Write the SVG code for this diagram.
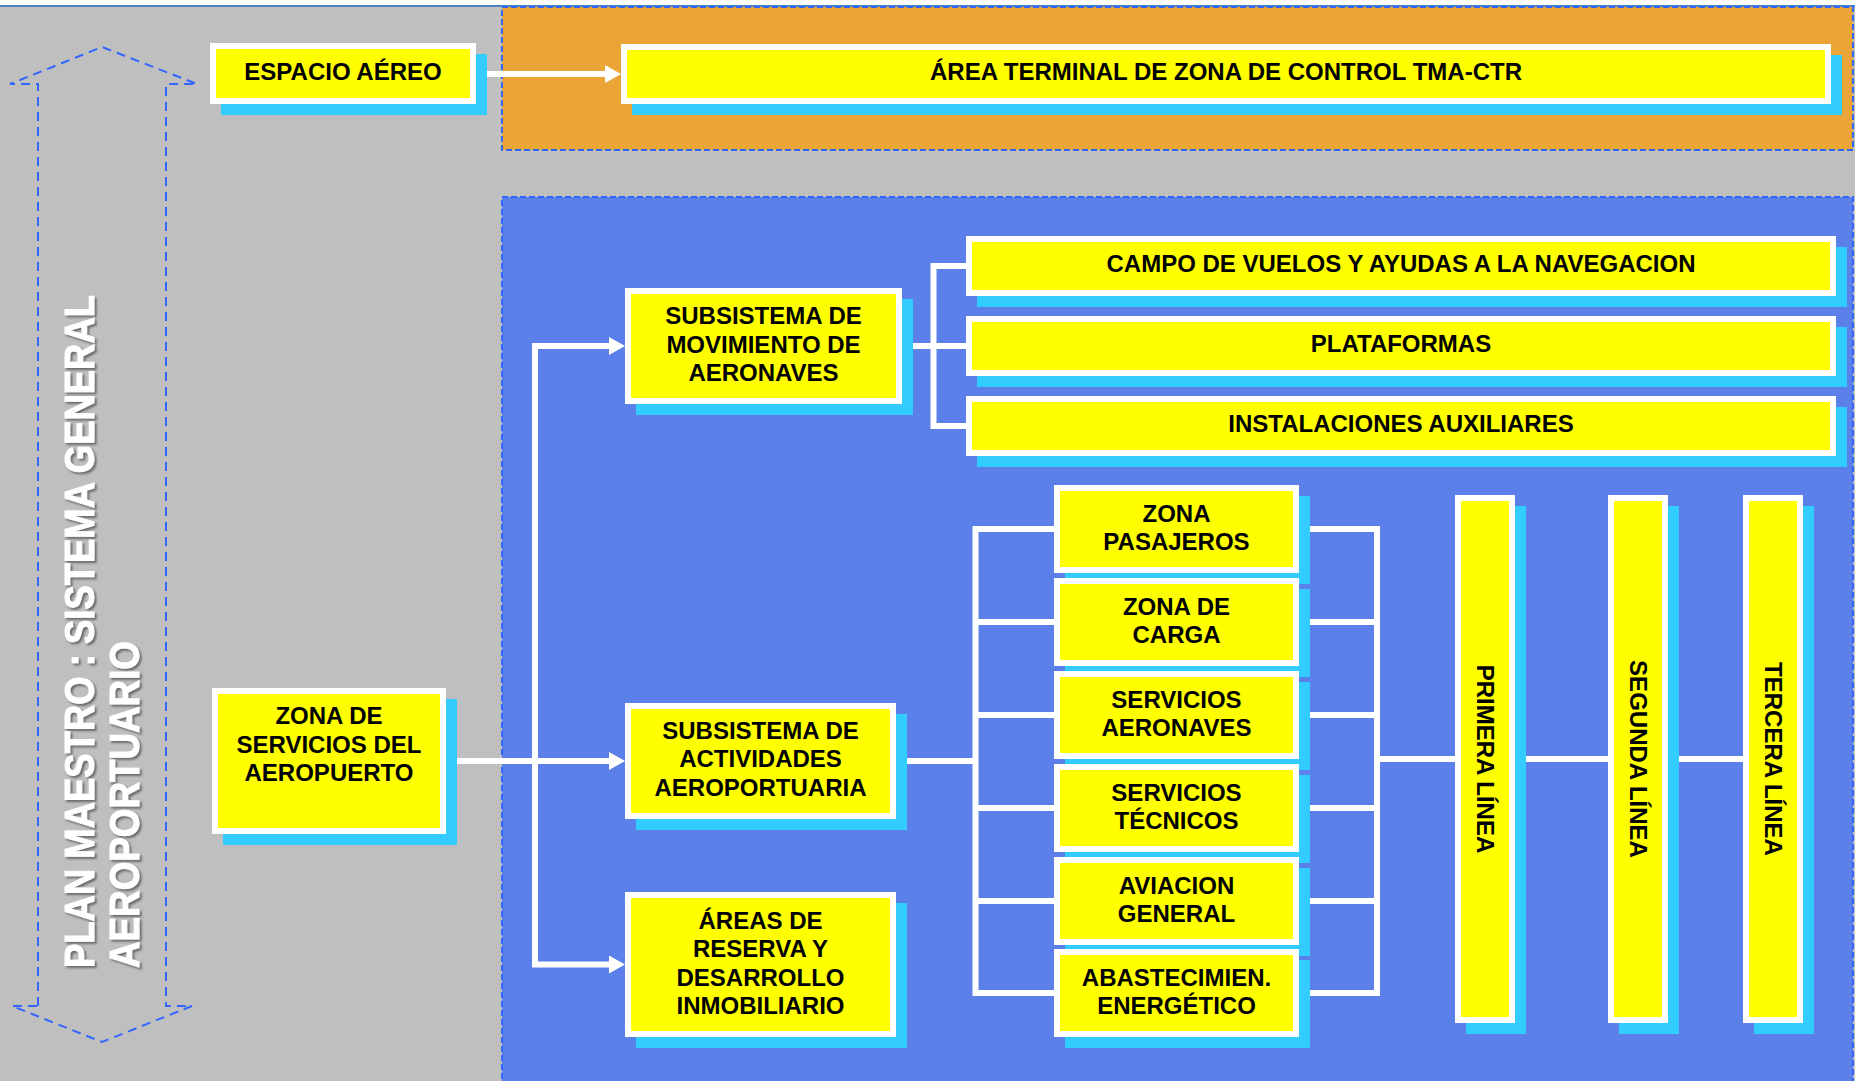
<svg xmlns="http://www.w3.org/2000/svg" width="1855" height="1081" viewBox="0 0 1855 1081">
  <defs>
    <style>
      .sh { fill: #33CCFF; }
      .bx { fill: #FFFF00; stroke: #FFFFFF; stroke-width: 6; }
      .lbl { font-family: "Liberation Sans", Arial, sans-serif; font-weight: bold; font-size: 24px; fill: #000000; text-anchor: middle; }
      .conn { stroke: #FFFFFF; stroke-width: 6; fill: none; }
      .zone { stroke: #3366FF; stroke-width: 2; stroke-dasharray: 6 3; }
      .title { font-family: "Liberation Sans", Arial, sans-serif; font-weight: bold; font-size: 42px; fill: #FFFFFF; stroke: #FFFFFF; stroke-width: 1; }
    </style>
    <marker id="arr" viewBox="0 0 16 18" refX="1" refY="9" markerWidth="16" markerHeight="18" markerUnits="userSpaceOnUse" orient="auto">
      <path d="M0,0 L16,9 L0,18 Z" fill="#FFFFFF"/>
    </marker>
    <filter id="tshadow" x="-10%" y="-10%" width="130%" height="130%">
      <feDropShadow dx="2" dy="2" stdDeviation="1" flood-color="#555555" flood-opacity="0.8"/>
    </filter>
  </defs>

  <!-- background -->
  <rect x="0" y="0" width="1855" height="1081" fill="#BFBFBF"/>
  <rect x="0" y="0" width="1855" height="5" fill="#FFFFFF"/>
  <line x1="0" y1="6" x2="1855" y2="6" stroke="#4F81BD" stroke-width="2"/>

  <!-- zones -->
  <rect id="zone-airspace" class="zone" x="502" y="7" width="1351" height="143" fill="#EBA537"/>
  <rect id="zone-airport" class="zone" x="502" y="197" width="1351" height="890" fill="#5B80E9"/>

  <!-- side double arrow with title -->
  <g id="plan-maestro">
    <path d="M38,1006 V84 H10 L102,47 L197,84 H166 V1006 H192 L102,1042 L12,1006 Z" fill="none" stroke="#3366FF" stroke-width="2" stroke-dasharray="9 6"/>
    <g filter="url(#tshadow)">
      <text class="title" transform="translate(94,968) rotate(-90)" textLength="673" lengthAdjust="spacingAndGlyphs">PLAN MAESTRO : SISTEMA GENERAL</text>
      <text class="title" transform="translate(139,968) rotate(-90)" textLength="327" lengthAdjust="spacingAndGlyphs">AEROPORTUARIO</text>
    </g>
  </g>

  <!-- connectors -->
  <g id="connectors">
    <path class="conn" d="M476,74 H606" marker-end="url(#arr)"/>
    <path class="conn" d="M446,761 H610" marker-end="url(#arr)"/>
    <path class="conn" d="M535,964.5 V346 H610" marker-end="url(#arr)"/>
    <path class="conn" d="M532,964.5 H610" marker-end="url(#arr)"/>
    <path class="conn" d="M902,346 H966"/>
    <path class="conn" d="M966,266 H933.5 V426 H966"/>
    <path class="conn" d="M896,761 H975.5"/>
    <path class="conn" d="M1054,529 H975.5 V993 H1054"/>
    <path class="conn" d="M975.5,622 H1054 M975.5,715 H1054 M975.5,808 H1054 M975.5,901 H1054"/>
    <path class="conn" d="M1299,529 H1377 V993 H1299"/>
    <path class="conn" d="M1299,622 H1377 M1299,715 H1377 M1299,808 H1377 M1299,901 H1377"/>
    <path class="conn" d="M1377,759 H1455"/>
    <path class="conn" d="M1515,759 H1608"/>
    <path class="conn" d="M1668,759 H1743"/>
  </g>

  <!-- nodes -->
  <g id="espacio-aereo">
    <rect class="sh" x="221" y="54" width="266" height="61"/>
    <rect class="bx" x="213" y="46" width="260" height="55"/>
    <text class="lbl" x="343" y="80">ESPACIO AÉREO</text>
  </g>
  <g id="area-terminal">
    <rect class="sh" x="632" y="55" width="1210" height="60"/>
    <rect class="bx" x="624" y="47" width="1204" height="54"/>
    <text class="lbl" x="1226" y="80">ÁREA TERMINAL DE ZONA DE CONTROL TMA-CTR</text>
  </g>
  <g id="zona-servicios">
    <rect class="sh" x="223" y="699" width="234" height="146"/>
    <rect class="bx" x="215" y="691" width="228" height="140"/>
    <text class="lbl" x="329" y="724">ZONA DE</text>
    <text class="lbl" x="329" y="752.5">SERVICIOS DEL</text>
    <text class="lbl" x="329" y="781">AEROPUERTO</text>
  </g>
  <g id="subsistema-movimiento">
    <rect class="sh" x="636" y="299" width="277" height="116"/>
    <rect class="bx" x="628" y="291" width="271" height="110"/>
    <text class="lbl" x="763.5" y="324">SUBSISTEMA DE</text>
    <text class="lbl" x="763.5" y="352.5">MOVIMIENTO DE</text>
    <text class="lbl" x="763.5" y="381">AERONAVES</text>
  </g>
  <g id="subsistema-actividades">
    <rect class="sh" x="636" y="714" width="271" height="116"/>
    <rect class="bx" x="628" y="706" width="265" height="110"/>
    <text class="lbl" x="760.5" y="738.5">SUBSISTEMA DE</text>
    <text class="lbl" x="760.5" y="767">ACTIVIDADES</text>
    <text class="lbl" x="760.5" y="795.5">AEROPORTUARIA</text>
  </g>
  <g id="areas-reserva">
    <rect class="sh" x="636" y="903" width="271" height="145"/>
    <rect class="bx" x="628" y="895" width="265" height="139"/>
    <text class="lbl" x="760.5" y="928.5">ÁREAS DE</text>
    <text class="lbl" x="760.5" y="957">RESERVA Y</text>
    <text class="lbl" x="760.5" y="985.5">DESARROLLO</text>
    <text class="lbl" x="760.5" y="1014">INMOBILIARIO</text>
  </g>
  <g id="campo-vuelos">
    <rect class="sh" x="977" y="247" width="870" height="60"/>
    <rect class="bx" x="969" y="239" width="864" height="54"/>
    <text class="lbl" x="1401" y="272">CAMPO DE VUELOS Y AYUDAS A LA NAVEGACION</text>
  </g>
  <g id="plataformas">
    <rect class="sh" x="977" y="327" width="870" height="60"/>
    <rect class="bx" x="969" y="319" width="864" height="54"/>
    <text class="lbl" x="1401" y="352">PLATAFORMAS</text>
  </g>
  <g id="instalaciones-auxiliares">
    <rect class="sh" x="977" y="407" width="870" height="60"/>
    <rect class="bx" x="969" y="399" width="864" height="54"/>
    <text class="lbl" x="1401" y="432">INSTALACIONES AUXILIARES</text>
  </g>
  <g id="zona-pasajeros">
    <rect class="sh" x="1065" y="496" width="245" height="88"/>
    <rect class="bx" x="1057" y="488" width="239" height="82"/>
    <text class="lbl" x="1176.5" y="521.5">ZONA</text>
    <text class="lbl" x="1176.5" y="550">PASAJEROS</text>
  </g>
  <g id="zona-carga">
    <rect class="sh" x="1065" y="589" width="245" height="88"/>
    <rect class="bx" x="1057" y="581" width="239" height="82"/>
    <text class="lbl" x="1176.5" y="614.5">ZONA DE</text>
    <text class="lbl" x="1176.5" y="643">CARGA</text>
  </g>
  <g id="servicios-aeronaves">
    <rect class="sh" x="1065" y="682" width="245" height="88"/>
    <rect class="bx" x="1057" y="674" width="239" height="82"/>
    <text class="lbl" x="1176.5" y="707.5">SERVICIOS</text>
    <text class="lbl" x="1176.5" y="736">AERONAVES</text>
  </g>
  <g id="servicios-tecnicos">
    <rect class="sh" x="1065" y="775" width="245" height="88"/>
    <rect class="bx" x="1057" y="767" width="239" height="82"/>
    <text class="lbl" x="1176.5" y="800.5">SERVICIOS</text>
    <text class="lbl" x="1176.5" y="829">TÉCNICOS</text>
  </g>
  <g id="aviacion-general">
    <rect class="sh" x="1065" y="868" width="245" height="88"/>
    <rect class="bx" x="1057" y="860" width="239" height="82"/>
    <text class="lbl" x="1176.5" y="893.5">AVIACION</text>
    <text class="lbl" x="1176.5" y="922">GENERAL</text>
  </g>
  <g id="abastecimiento-energetico">
    <rect class="sh" x="1065" y="960" width="245" height="88"/>
    <rect class="bx" x="1057" y="952" width="239" height="82"/>
    <text class="lbl" x="1176.5" y="985.5">ABASTECIMIEN.</text>
    <text class="lbl" x="1176.5" y="1014">ENERGÉTICO</text>
  </g>
  <g id="primera-linea">
    <rect class="sh" x="1466" y="506" width="60" height="528"/>
    <rect class="bx" x="1458" y="498" width="54" height="522"/>
    <text class="lbl" transform="translate(1476.5,759) rotate(90)">PRIMERA LÍNEA</text>
  </g>
  <g id="segunda-linea">
    <rect class="sh" x="1619" y="506" width="60" height="528"/>
    <rect class="bx" x="1611" y="498" width="54" height="522"/>
    <text class="lbl" transform="translate(1629.5,759) rotate(90)">SEGUNDA LÍNEA</text>
  </g>
  <g id="tercera-linea">
    <rect class="sh" x="1754" y="506" width="60" height="528"/>
    <rect class="bx" x="1746" y="498" width="54" height="522"/>
    <text class="lbl" transform="translate(1764.5,759) rotate(90)">TERCERA LÍNEA</text>
  </g>
</svg>
